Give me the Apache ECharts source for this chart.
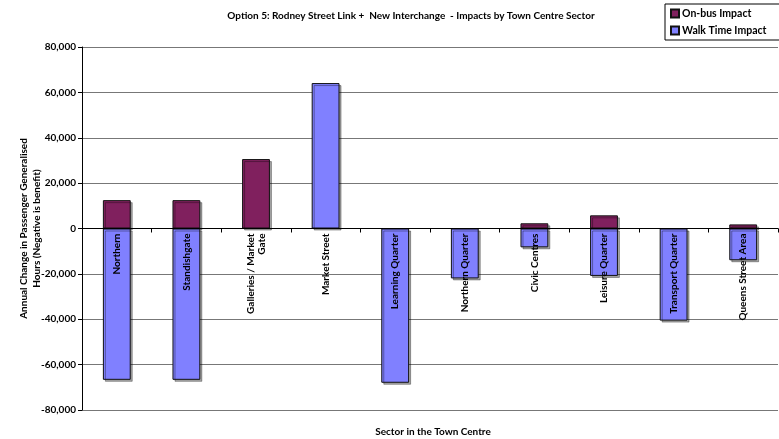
<!DOCTYPE html>
<html><head><meta charset="utf-8">
<script src="https://cdn.jsdelivr.net/npm/echarts@6/dist/echarts.min.js"></script>
<style>html,body{margin:0;padding:0;background:#fff}#c{width:779px;height:439px}</style>
</head><body><div id="c"></div>
<script>
const categories = ['Northern','Standishgate','Galleries / Market\nGate','Market Street','Learning Quarter','Northern Quarter','Civic Centres','Leisure Quarter','Transport Quarter','Queens Street Area'];
// null = no bar of that kind for the sector
const onBusImpact = [12500, 12500, 30600, null, null, null, 2300, 5800, null, 1800];
const walkTimeImpact = [-66700, -66700, null, 64100, -68000, -22000, -8300, -20900, -40600, -14000];
const yTicks = [-80000, 80000, 20000];

const FONT = 'Lato, "Liberation Sans", sans-serif';
const GRID = {left: 82, right: 1, top: 47, bottom: 29};
const chart = echarts.init(document.getElementById('c'));
const fmt = v => (v < 0 ? '-' : '') + Math.abs(v).toString().replace(/\B(?=(\d{3})+(?!\d))/g, ',');
const barStyle = c => ({color: c, borderColor: '#111', borderWidth: 1, shadowColor: 'rgba(0,0,0,0.35)', shadowOffsetX: 2, shadowOffsetY: 2, shadowBlur: 0});
// x axis sits on the zero line: shift it up by the pixel distance from bottom to value 0
const plotH = 439 - GRID.top - GRID.bottom;
const zeroShift = plotH * (0 - yTicks[0]) / (yTicks[1] - yTicks[0]);
chart.setOption({
  animation: false,
  textStyle: {fontFamily: FONT},
  title: [
    {text: 'Option 5: Rodney Street Link +  New Interchange  - Impacts by Town Centre Sector', left: 406, top: 6, textAlign: 'center',
     textStyle: {fontFamily: FONT, fontSize: 10, fontWeight: 'bold', color: '#000'}},
    {text: 'Sector in the Town Centre', left: 428, top: 422, textAlign: 'center',
     textStyle: {fontFamily: FONT, fontSize: 10, fontWeight: 'bold', color: '#000'}}
  ],
  legend: {
    orient: 'vertical', left: 665, top: 4, width: 113,
    padding: [4, 14, 4, 5], itemGap: 6, itemWidth: 8, itemHeight: 8,
    borderColor: '#000', borderWidth: 1,
    icon: 'rect',
    textStyle: {fontFamily: FONT, fontSize: 10.5, fontWeight: 'bold', color: '#000', padding: [0,0,0,-2]},
    data: ['On-bus Impact', 'Walk Time Impact']
  },
  grid: Object.assign({containLabel: false, outerBoundsMode: 'none'}, GRID),
  xAxis: {
    type: 'category', data: categories, z: 10,
    offset: -zeroShift,
    axisLine: {onZero: false, lineStyle: {color: '#000', width: 1}},
    axisTick: {show: true, alignWithLabel: false, length: 4, inside: false, lineStyle: {color: '#000'}},
    axisLabel: {rotate: 90, interval: 0, margin: 5, fontFamily: FONT, fontSize: 10, fontWeight: 'bold', color: '#000', lineHeight: 11}
  },
  yAxis: {
    type: 'value', min: yTicks[0], max: yTicks[1], interval: yTicks[2],
    name: 'Annual Change in Passenger Generalised\nHours (Negative is benefit)',
    nameLocation: 'middle', nameGap: 39, nameRotate: 90, nameMoveOverlap: false,
    nameTextStyle: {fontFamily: FONT, fontSize: 10, fontWeight: 'bold', color: '#000', lineHeight: 13},
    axisLine: {show: true, onZero: false, lineStyle: {color: '#000'}},
    axisTick: {show: true, length: 4, lineStyle: {color: '#000'}},
    axisLabel: {formatter: fmt, fontFamily: FONT, fontSize: 10, fontWeight: 'bold', color: '#000', margin: 6},
    splitLine: {show: true, lineStyle: {color: '#777', width: 1}}
  },
  series: [
    {name: 'On-bus Impact', type: 'bar', stack: 'a', data: onBusImpact, barWidth: '40%', itemStyle: barStyle('#80205E')},
    {name: 'Walk Time Impact', type: 'bar', stack: 'a', data: walkTimeImpact, barWidth: '40%', itemStyle: barStyle('#8080FF')}
  ]
});
</script></body></html>
